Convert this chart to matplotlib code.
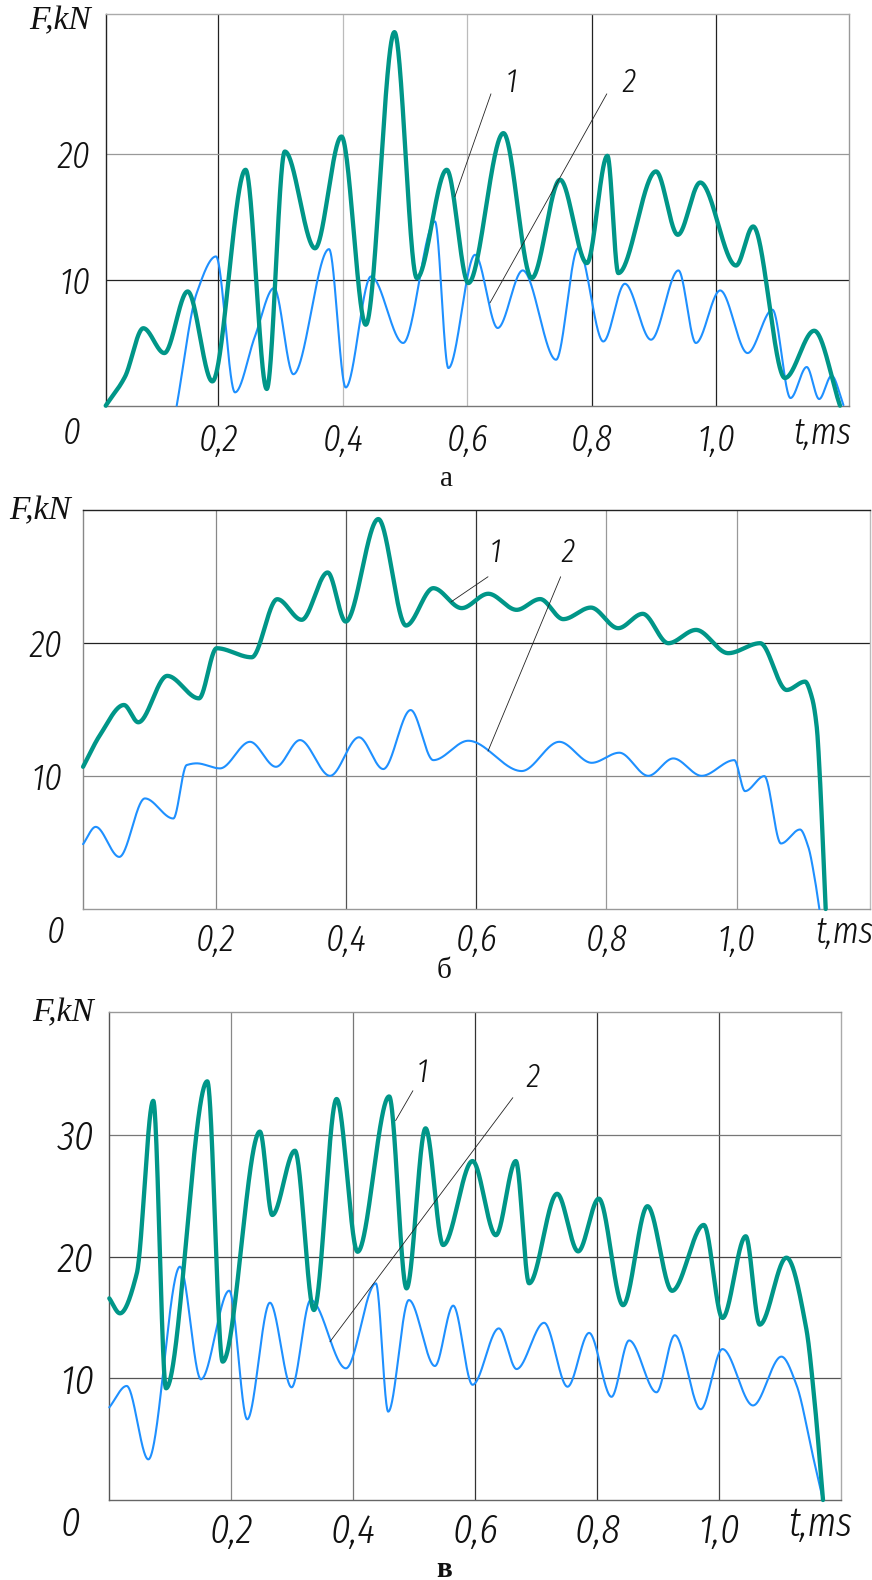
import numpy as np
import matplotlib
matplotlib.use("Agg")
import matplotlib.pyplot as plt
from matplotlib import font_manager as fm
from matplotlib.font_manager import FontProperties

# ---------------- data ----------------
# panel a
a_t1 = [0.0194, 0.0504, 0.0798, 0.1135, 0.151, 0.1906, 0.244, 0.278, 0.307, 0.3555, 0.398, 0.437,
        0.483, 0.519, 0.567, 0.6017, 0.658, 0.7034, 0.749, 0.792, 0.825, 0.8425, 0.903, 0.938,
        0.974, 1.0315, 1.059, 1.110, 1.157, 1.1985]
a_f1 = [0.0, 2.3, 6.15, 4.18, 9.07, 1.93, 18.73, 1.33, 20.18, 12.5, 21.37, 6.43,
        29.66, 10.13, 18.73, 9.74, 21.64, 10.13, 17.94, 11.32, 19.84, 10.53, 18.6, 13.57,
        17.72, 11.13, 14.23, 2.2, 5.95, 0.0]
a_t2 = [0.1334, 0.1655, 0.1965, 0.227, 0.259, 0.2897, 0.3207, 0.378, 0.4048, 0.4454, 0.497, 0.548,
        0.5696, 0.6124, 0.6488, 0.689, 0.7425, 0.778, 0.8184, 0.853, 0.895, 0.939, 0.967, 1.006,
        1.050, 1.090, 1.119, 1.145, 1.165, 1.185, 1.204]
a_f2 = [0.0, 8.94, 11.85, 1.06, 5.5, 9.34, 2.5, 12.43, 1.45, 10.26, 4.98, 14.63,
        2.99, 11.98, 6.17, 10.74, 3.65, 12.51, 5.1, 9.68, 5.24, 10.74, 4.98, 9.15,
        4.18, 7.62, 0.61, 3.07, 0.53, 2.38, 0.05]

# panel b
b_t1 = [-0.004, 0.022, 0.0588, 0.0808, 0.1253, 0.174, 0.2012, 0.255, 0.2943, 0.3318, 0.3717, 0.3994,
        0.4495, 0.492, 0.534, 0.5776, 0.6184, 0.662, 0.698, 0.7336, 0.776, 0.818, 0.8556, 0.895,
        0.9375, 0.987, 1.036, 1.0768, 1.105, 1.1152, 1.1229, 1.128, 1.1315, 1.1367]
b_f1 = [10.7, 13.09, 15.35, 14.05, 17.54, 15.85, 19.62, 18.94, 23.31, 21.76, 25.32, 21.63,
        29.34, 21.33, 24.14, 22.64, 23.72, 22.51, 23.32, 21.81, 22.68, 21.13, 22.21, 20.0,
        21.0, 19.25, 20.0, 16.48, 17.11, 15.98, 13.72, 9.7, 5.93, 0.0]
b_t2 = [-0.004, 0.0154, 0.0516, 0.091, 0.1346, 0.1551, 0.1705, 0.2063, 0.2524, 0.2923, 0.3292, 0.3753,
        0.4198, 0.4571, 0.4992, 0.534, 0.5877, 0.6697, 0.7275, 0.7773, 0.8197, 0.8642, 0.9026, 0.9462,
        0.9963, 1.0128, 1.0424, 1.068, 1.0972, 1.11, 1.1203, 1.127]
b_f2 = [4.88, 6.18, 3.92, 8.32, 6.81, 10.83, 10.96, 10.58, 12.58, 10.7, 12.71, 10.02,
        12.92, 10.53, 14.97, 11.2, 12.66, 10.38, 12.58, 11.0, 11.76, 10.02, 11.33, 10.02,
        11.2, 8.87, 10.0, 4.93, 5.98, 4.67, 2.16, 0.0]

# panel c
c_t1 = [0.0, 0.0175, 0.045, 0.0721, 0.093, 0.1607, 0.1859, 0.247, 0.2672, 0.3044, 0.3356, 0.3728,
        0.4072, 0.459, 0.4875, 0.5187, 0.5475, 0.5957, 0.634, 0.6667, 0.6885, 0.7344, 0.7689,
        0.8028, 0.8426, 0.8826, 0.923, 0.975, 1.0056, 1.0438, 1.0667, 1.1105, 1.143, 1.157, 1.1705]
c_f1 = [16.57, 15.34, 18.6, 32.8, 9.18, 34.4, 11.37, 30.27, 23.42, 28.7, 15.61, 32.95,
        20.4, 33.16, 17.39, 30.54, 20.95, 27.85, 21.76, 27.85, 17.81, 25.16, 20.43,
        24.76, 16.01, 24.14, 17.19, 22.6, 14.96, 21.67, 14.41, 19.91, 14.1, 7.92, 0.0]
c_t2 = [0.0, 0.0285, 0.064, 0.1159, 0.1503, 0.1967, 0.2262, 0.2634, 0.299, 0.3302, 0.388, 0.4372,
        0.4574, 0.4913, 0.534, 0.564, 0.5957, 0.6388, 0.6679, 0.7131, 0.7515, 0.7869, 0.8236,
        0.8525, 0.8974, 0.9274, 0.97, 1.0056, 1.0557, 1.1023, 1.1269, 1.154, 1.1705]
c_f2 = [7.61, 9.37, 3.34, 19.17, 9.92, 17.2, 6.63, 16.21, 9.26, 16.43, 10.82, 17.8,
        7.26, 16.43, 11.01, 15.97, 9.47, 14.1, 10.76, 14.56, 9.31, 13.73, 8.48,
        13.11, 8.85, 13.54, 7.46, 12.4, 7.77, 11.78, 9.47, 3.6, 0.0]

x_ticks = [0.2, 0.4, 0.6, 0.8, 1.0]
x_tick_labels = ["0,2", "0,4", "0,6", "0,8", "1,0"]
a_yticks = [10, 20]
b_yticks = [10, 20]
c_yticks = [10, 20, 30]
panel_letters = ["а", "б", "в"]

# ---------------- helpers ----------------
def smooth(x, y, n=3000):
    x = np.asarray(x, float); y = np.asarray(y, float)
    h = np.diff(x); d = np.diff(y) / h
    m = np.zeros(len(x))
    for k in range(1, len(x) - 1):
        if d[k - 1] * d[k] > 0:
            w1 = 2 * h[k] + h[k - 1]; w2 = h[k] + 2 * h[k - 1]
            m[k] = (w1 + w2) / (w1 / d[k - 1] + w2 / d[k])
    m[0] = d[0]; m[-1] = d[-1]
    xn = np.linspace(x[0], x[-1], n)
    i = np.clip(np.searchsorted(x, xn) - 1, 0, len(x) - 2)
    hh = h[i]; s = (xn - x[i]) / hh
    h00 = 2 * s**3 - 3 * s**2 + 1; h10 = s**3 - 2 * s**2 + s
    h01 = -2 * s**3 + 3 * s**2; h11 = s**3 - s**2
    return xn, h00 * y[i] + h10 * hh * m[i] + h01 * y[i + 1] + h11 * hh * m[i + 1]


def pick_narrow_italic():
    best, best_s = None, -1e9
    for f in fm.fontManager.ttflist:
        if f.style not in ("italic", "oblique"):
            continue
        n = f.name
        st = str(f.stretch).lower()
        fn = f.fname.lower()
        if "extracondensed" in n.replace(" ", "") or "extracondensed" in fn or st in ("extra-condensed", "ultra-condensed"):
            s = 30
        elif "semicondensed" in n.replace(" ", "") or "semicondensed" in fn or st == "semi-condensed":
            s = 10
        elif "narrow" in n.lower() or "condensed" in n.lower() or "condensed" in fn or "narrow" in fn or st == "condensed":
            s = 22
        else:
            continue
        w = f.weight
        if isinstance(w, str):
            w = fm.weight_dict.get(w, 400)
        s -= abs(int(w) - 300) / 100.0 * 3
        if s > best_s:
            best, best_s = f.fname, s
    return best

NARROW_FILE = pick_narrow_italic()
if NARROW_FILE:
    def NFP(size):
        return FontProperties(fname=NARROW_FILE, size=size)
    SCALE = 1.35
else:
    def NFP(size):
        return FontProperties(family="Liberation Sans", style="italic", size=size)
    SCALE = 0.85

SERIF = "Liberation Serif"

W, H = 872, 1580
fig = plt.figure(figsize=(W / 100, H / 100), dpi=100)
fig.patch.set_facecolor("white")

TEAL = "#009688"
BLUE = "#1E90FF"

def px_text(x, y, s, va="center", **kw):
    fig.text(x / W, 1 - y / H, s, ha="center", va=va, **kw)

panels = [
    dict(box=(105.7, 14, 849, 405.7), xlim=(0.0194, 1.2129), ylim=(0, 31.1),
         s1=(a_t1, a_f1), s2=(a_t2, a_f2), yt=a_yticks,
         vcol=["#222", "#bbb", "#bbb", "#222", "#222"], hcol=["#222", "#999"],
         sp=dict(left="#222", bottom="#777", top="#aaa", right="#999"),
         fs=20, xpad=12, ypad=11,
         lead=[((0.638, 24.76), (0.580, 16.59), (0.672, 25.63), "1"),
               ((0.824, 24.76), (0.6365, 8.17), (0.860, 25.63), "2")],
         zero=(72, 434), tms=(822, 434), fkn=(60, 21), letter=(446, 486), bold=False),
    dict(box=(83, 510.3, 869.7, 909), xlim=(-0.0041, 1.2043), ylim=(0, 30.0),
         s1=(b_t1, b_f1), s2=(b_t2, b_f2), yt=b_yticks,
         vcol=["#888", "#555", "#333", "#999", "#999"], hcol=["#888", "#222"],
         sp=dict(left="#888", bottom="#999", top="#222", right="#bbb"),
         fs=20, xpad=10, ypad=15,
         lead=[((0.618, 25.0), (0.561, 23.1), (0.629, 26.8), "1"),
               ((0.7296, 25.0), (0.618, 11.88), (0.741, 26.8), "2")],
         zero=(56, 933), tms=(844, 933), fkn=(40, 511), letter=(444, 978), bold=False),
    dict(box=(109.3, 1011.5, 841, 1500), xlim=(0.0, 1.2), ylim=(0, 40.14),
         s1=(c_t1, c_f1), s2=(c_t2, c_f2), yt=c_yticks,
         vcol=["#888", "#777", "#333", "#333", "#444"], hcol=["#555", "#444", "#777"],
         sp=dict(left="#555", bottom="#666", top="#999", right="#aaa"),
         fs=22, xpad=9, ypad=11,
         lead=[((0.4979, 33.63), (0.4695, 31.17), (0.514, 35.09), "1"),
               ((0.6618, 33.06), (0.3618, 13.0), (0.695, 34.68), "2")],
         zero=(70, 1525), tms=(820, 1525), fkn=(63, 1013), letter=(444, 1577), bold=True),
]

for k, P in enumerate(panels):
    l, t, r, b = P["box"]
    fs = P["fs"] * SCALE
    ax = fig.add_axes([l / W, 1 - b / H, (r - l) / W, (b - t) / H])
    ax.set_xlim(*P["xlim"]); ax.set_ylim(*P["ylim"])
    for name, c in P["sp"].items():
        ax.spines[name].set_color(c)
        ax.spines[name].set_linewidth(1.0)
    for xv, c in zip(x_ticks, P["vcol"]):
        ax.axvline(xv, color=c, lw=0.9, zorder=1)
    for yv, c in zip(P["yt"], P["hcol"]):
        ax.axhline(yv, color=c, lw=0.9, zorder=1)
    ax.set_xticks(x_ticks)
    ax.set_xticklabels(x_tick_labels)
    ax.set_yticks(P["yt"])
    ax.set_yticklabels([str(v) for v in P["yt"]])
    ax.tick_params(length=0, colors="#111")
    ax.tick_params(axis="x", pad=P["xpad"])
    ax.tick_params(axis="y", pad=P["ypad"])
    for lab in ax.get_xticklabels() + ax.get_yticklabels():
        lab.set_fontproperties(NFP(fs))

    xs, ys = smooth(*P["s2"])
    ax.plot(xs, ys, color=BLUE, lw=1.5, zorder=3, clip_on=False, solid_capstyle="round")
    xs, ys = smooth(*P["s1"])
    ax.plot(xs, ys, color=TEAL, lw=3.1, zorder=4, clip_on=False, solid_capstyle="round")

    for start, end, lpos, txt in P["lead"]:
        ax.annotate("", xy=end, xytext=start,
                    arrowprops=dict(arrowstyle="-", color="#222", lw=0.6,
                                    shrinkA=0, shrinkB=0), zorder=5)
        ax.text(lpos[0], lpos[1], txt, ha="center", va="center",
                fontproperties=NFP(18 * SCALE), color="#111", zorder=6)

    px_text(*P["zero"], "0", fontproperties=NFP(fs), color="#111")
    px_text(*P["tms"], "t,ms", fontproperties=NFP(fs), color="#111")
    px_text(*P["fkn"], "F,kN", fontsize=24, family=SERIF, style="italic", color="#111")
    px_text(*P["letter"], panel_letters[k], va="baseline", fontsize=21, family=SERIF,
            weight="bold" if P["bold"] else "normal", color="#111")

fig.savefig("out.png", dpi=100, facecolor="white")
